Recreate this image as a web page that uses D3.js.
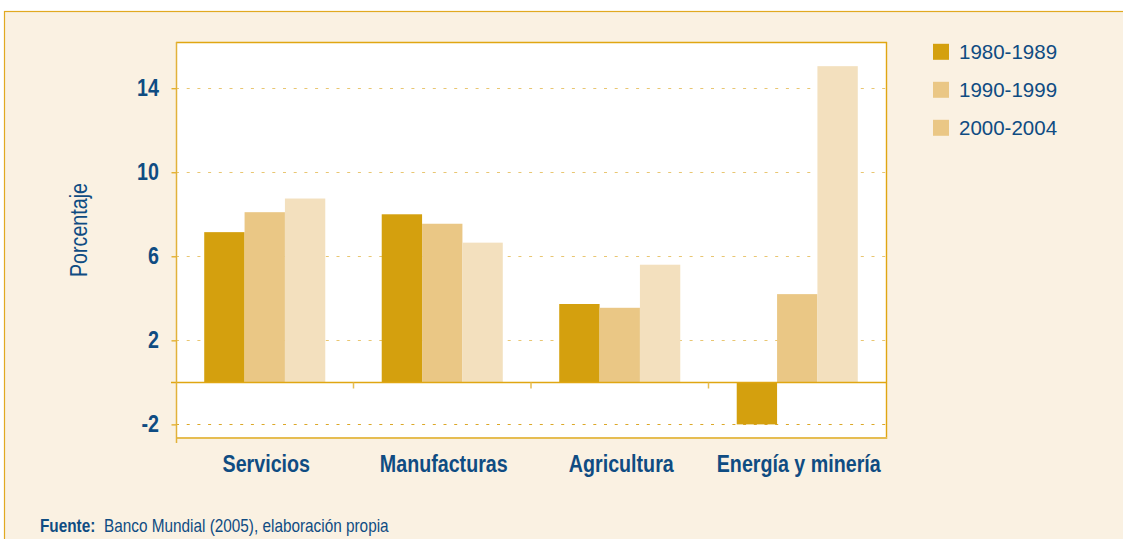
<!DOCTYPE html>
<html>
<head>
<meta charset="utf-8">
<script src="https://cdn.jsdelivr.net/npm/d3@7"></script>
<style>
  html, body { margin: 0; padding: 0; background: #ffffff; }
  svg { display: block; }
  text { font-family: "Liberation Sans", Arial, sans-serif; fill: #0F4C82; }
</style>
</head>
<body>
<svg id="chart" width="1123" height="539"></svg>
<script>
// Crecimiento por sector y periodo (porcentaje)
const categories = ["Servicios", "Manufacturas", "Agricultura", "Energía y minería"];
const periods = ["1980-1989", "1990-1999", "2000-2004"];
const values1980 = [7.15, 8.0, 3.73, -2.0];
const values1990 = [8.1, 7.55, 3.55, 4.2];
const values2000 = [8.75, 6.65, 5.6, 15.05];
const yTickValues = [-2, 2, 6, 10, 14];
const yTickLabels = ["-2", "2", "6", "10", "14"];

const seriesValues = [values1980, values1990, values2000];
const barColors = ["#D4A00E", "#EAC785", "#F3E0BE"];
const legendColors = ["#D4A00E", "#EAC785", "#EAC785"];
const gold = "#E0A612";
const lightGold = "#E6BD52";
const narrow = 0.82;

const svg = d3.select("#chart");

// Outer cream panel
svg.append("rect")
  .attr("x", 4.5).attr("y", 11.5)
  .attr("width", 1130).attr("height", 540)
  .attr("fill", "#FAF1E2")
  .attr("stroke", "#E1A920").attr("stroke-width", 1.2);

const plot = { left: 176, right: 886, top: 42, bottom: 437 };

const y = d3.scaleLinear().domain([-2.6, 16.2]).range([plot.bottom, plot.top]);
const x0 = d3.scaleBand().domain(categories)
  .range([plot.left, plot.right])
  .paddingInner(0.318).paddingOuter(0.159);
const x1 = d3.scaleBand().domain(periods).range([0, x0.bandwidth()]);

// Plot background
svg.append("rect")
  .attr("x", plot.left).attr("y", plot.top)
  .attr("width", plot.right - plot.left).attr("height", plot.bottom - plot.top)
  .attr("fill", "#ffffff");

// Dotted gridlines
svg.append("g").selectAll("line").data(yTickValues).join("line")
  .attr("x1", plot.left).attr("x2", plot.right)
  .attr("y1", d => Math.round(y(d)) + 0.5).attr("y2", d => Math.round(y(d)) + 0.5)
  .attr("stroke", d => d < 0 ? "#DCA828" : "#E9C671")
  .attr("stroke-width", 1.2)
  .attr("stroke-dasharray", "3,7.7");

// Bars
const groups = svg.append("g").selectAll("g").data(categories).join("g")
  .attr("transform", d => `translate(${x0(d)},0)`);
groups.selectAll("rect")
  .data((c, i) => periods.map((p, j) => ({ p, v: seriesValues[j][i], j })))
  .join("rect")
  .attr("x", d => x1(d.p))
  .attr("width", x1.bandwidth())
  .attr("y", d => y(Math.max(0, d.v)))
  .attr("height", d => Math.abs(y(d.v) - y(0)))
  .attr("fill", d => barColors[d.j]);

// Zero baseline with category separators
const y0 = Math.round(y(0)) + 0.5;
svg.append("line")
  .attr("x1", plot.left - 5).attr("x2", plot.right)
  .attr("y1", y0).attr("y2", y0)
  .attr("stroke", gold).attr("stroke-width", 1.3);
const step = x0.step();
svg.append("g").selectAll("line").data(categories.slice(0, -1)).join("line")
  .attr("x1", d => x0(d) + x0.bandwidth() + (step - x0.bandwidth()) / 2)
  .attr("x2", d => x0(d) + x0.bandwidth() + (step - x0.bandwidth()) / 2)
  .attr("y1", y0).attr("y2", y0 + 6)
  .attr("stroke", lightGold).attr("stroke-width", 1.5);

// Plot frame
svg.append("line")
  .attr("x1", plot.left).attr("x2", plot.right + 1)
  .attr("y1", plot.top + 0.5).attr("y2", plot.top + 0.5)
  .attr("stroke", gold).attr("stroke-width", 1.4);
svg.append("line")
  .attr("x1", plot.right + 0.5).attr("x2", plot.right + 0.5)
  .attr("y1", plot.top).attr("y2", plot.bottom + 2)
  .attr("stroke", gold).attr("stroke-width", 1.4);
svg.append("line")
  .attr("x1", plot.left).attr("x2", plot.right + 1)
  .attr("y1", plot.bottom + 1).attr("y2", plot.bottom + 1)
  .attr("stroke", lightGold).attr("stroke-width", 2);

// Left axis with ticks
const yAxis = d3.axisLeft(y).tickValues(yTickValues).tickSize(5).tickFormat("");
const yAxisG = svg.append("g").attr("transform", `translate(${plot.left + 0.5},0)`).call(yAxis);
yAxisG.select(".domain").remove();
yAxisG.selectAll(".tick line").attr("stroke", gold).attr("stroke-width", 1.2);
svg.append("line")
  .attr("x1", plot.left + 0.5).attr("x2", plot.left + 0.5)
  .attr("y1", plot.top).attr("y2", plot.bottom + 6)
  .attr("stroke", "#E2B23A").attr("stroke-width", 1.5);

// Y tick labels (condensed bold)
svg.append("g").selectAll("g").data(yTickValues).join("g")
  .attr("transform", d => `translate(159,${y(d) + 8}) scale(${narrow},1)`)
  .append("text")
  .attr("text-anchor", "end")
  .attr("font-size", 24).attr("font-weight", "bold")
  .text((d, i) => yTickLabels[i]);

// Category labels
svg.append("g").selectAll("g").data(categories).join("g")
  .attr("transform", d => `translate(${x0(d) + x0.bandwidth() / 2 + 1.5},472) scale(${narrow},1)`)
  .append("text")
  .attr("text-anchor", "middle")
  .attr("font-size", 24).attr("font-weight", "bold")
  .text(d => d);

// Y axis title
svg.append("g")
  .attr("transform", `translate(87,230) rotate(-90) scale(${narrow},1)`)
  .append("text")
  .attr("text-anchor", "middle")
  .attr("font-size", 24)
  .text("Porcentaje");

// Legend
const legend = svg.append("g").selectAll("g").data(periods).join("g")
  .attr("transform", (d, i) => `translate(933,${59.3 + i * 38})`);
legend.append("rect")
  .attr("x", 0).attr("y", -15.5).attr("width", 16).attr("height", 16)
  .attr("fill", (d, i) => legendColors[i]);
legend.append("text")
  .attr("x", 26).attr("y", 0)
  .attr("font-size", 20.5)
  .text(d => d);

// Source note
const src = svg.append("g")
  .attr("transform", `translate(40,531.5) scale(${narrow},1)`)
  .append("text")
  .attr("font-size", 18.7);
src.append("tspan").attr("font-weight", "bold").text("Fuente:");
src.append("tspan").attr("x", (104 - 40) / narrow).text("Banco Mundial (2005), elaboración propia");
</script>
</body>
</html>
